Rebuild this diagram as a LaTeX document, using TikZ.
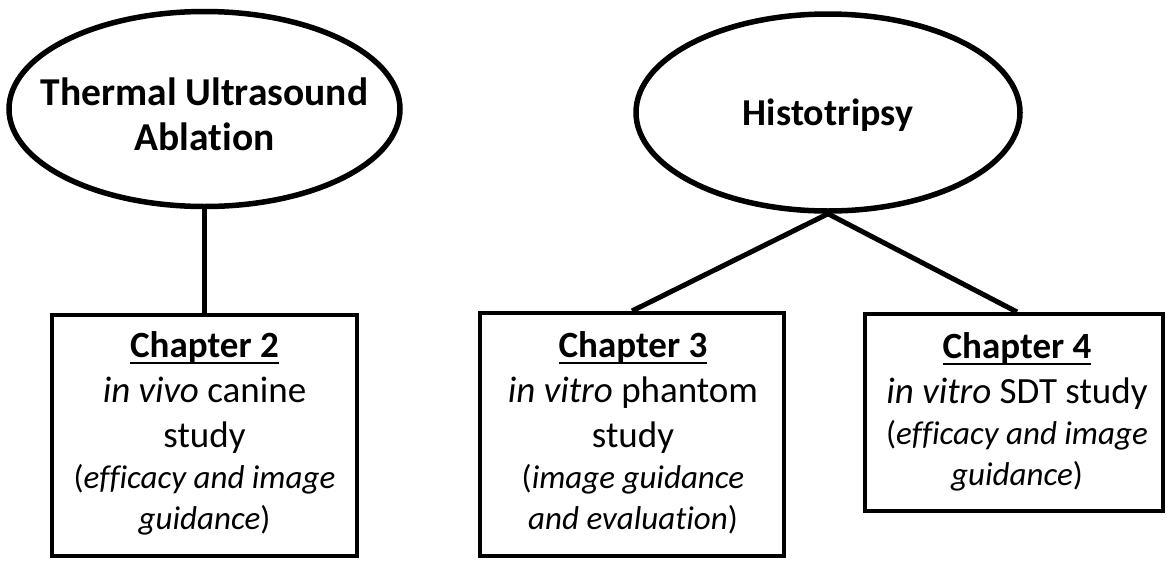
\documentclass[tikz,border=0pt]{standalone}
\usepackage{fontspec}
\setmainfont{Carlito}[Ligatures=NoCommon]
\usetikzlibrary{shapes.geometric}
\newcommand{\paren}[1]{{\fontsize{33}{45}\selectfont #1}}
\newcommand{\chead}[1]{\setbox0\hbox{\textbf{#1}}\leavevmode\rlap{\rule[-6.5pt]{\wd0}{2.2pt}}\box0}
\begin{document}
\begin{tikzpicture}[x=1pt,y=-1pt,
  oval/.style={draw, ellipse, line width=5.5pt, inner sep=0pt},
  ovaltext/.style={anchor=north, align=center, inner sep=0pt, font=\bfseries\fontsize{39.5}{45}\selectfont},
  chbox/.style={draw, rectangle, line width=4pt, inner sep=0pt},
  chtext/.style={anchor=north, align=center, inner sep=0pt, font=\fontsize{37}{45}\selectfont},
  link/.style={line width=5pt}]
\useasboundingbox (0,0) rectangle (1167,560);

% ovals
\node[oval, minimum width=391pt, minimum height=195pt] (e1) at (204.5,109) {};
\node[ovaltext] (t1) at (204.5,77.5) {Thermal Ultrasound\\Ablation};
\node[oval, minimum width=384pt, minimum height=197pt] (e2) at (828,112.5) {};
\node[anchor=base, inner sep=0pt, font=\bfseries\fontsize{38}{45}\selectfont] (t2) at (828,125) {Histotripsy};

% boxes
\node[chbox, minimum width=305pt, minimum height=241pt] (b1) at (204.5,435.5) {};
\node[chbox, minimum width=304pt, minimum height=243pt] (b3) at (632,434.5) {};
\node[chbox, minimum width=298pt, minimum height=197pt] (b4) at (1014,412.5) {};

\node[chtext] (c1) at (204.5,331.5) {\chead{Chapter 2}\\ \textit{in vivo} canine\\ study\\[-4pt] \paren{(\textit{efficacy and image}}\\[-4pt] \paren{\textit{guidance})}};
\node[chtext] (c3) at (633,331.5) {\chead{Chapter 3}\\ \textit{in vitro} phantom\\ study\\[-4pt] \paren{(\textit{image guidance}}\\[-4pt] \paren{\textit{and evaluation})}};
\node[chtext] (c4) at (1017,332.5) {\chead{Chapter 4}\\ \textit{in vitro} SDT study\\[-4pt] \paren{(\textit{efficacy and image}}\\[-4pt] \paren{\textit{guidance})}};

% connectors
\draw[link] (e1.south) -- (b1.north);
\draw[link] (e2.south) -- (b3.north);
\draw[link] (e2.south) -- ([xshift=3pt]b4.north);
\end{tikzpicture}
\end{document}
